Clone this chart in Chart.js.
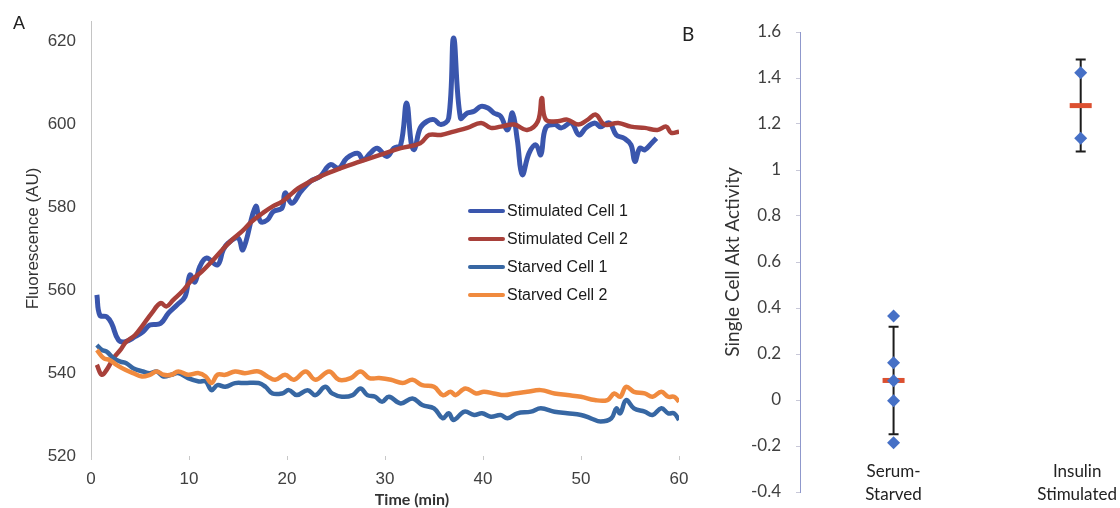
<!DOCTYPE html>
<html>
<head>
<meta charset="utf-8">
<script src="https://cdn.jsdelivr.net/npm/chart.js@4.4.0/dist/chart.umd.min.js"></script>
<style>
    body { margin: 0; background: #fff; }
    #wrap { position: relative; width: 1120px; height: 508px; overflow: hidden; }
    canvas { position: absolute; top: 0; }
    #chartA { left: 0; }
    #chartB { left: 690px; }
    .panel { position: absolute; color: #222; }
    #labelA { left: 13px; top: 13px; font: 18px "Liberation Sans", Arial, sans-serif; }
    #labelB { left: 682px; top: 22px; font: 19px Lato, sans-serif; }
    #timeTitle { position: absolute; left: 352px; width: 120px; top: 489px; text-align: center;
        font: bold 16px Lato, sans-serif; color: #333; }
    #legendA { position: absolute; left: 468px; top: 201px; }
    .row { height: 28px; display: flex; align-items: flex-start; }
    .row span.swatch { display: inline-block; width: 37px; height: 4px; margin-top: 8px; margin-right: 2px; border-radius: 2px; }
    .row span.text { font: 16px "Liberation Sans", Arial, sans-serif; color: #1a1a1a; line-height: 20px; }
</style>
</head>
<body>
<div id="wrap">
    <canvas id="chartA" width="690" height="508"></canvas>
    <canvas id="chartB" width="430" height="508"></canvas>
    <div class="panel" id="labelA">A</div>
    <div class="panel" id="labelB">B</div>
    <div id="timeTitle">Time (min)</div>
    <div id="legendA"></div>
</div>
<script>
// panel A: fluorescence traces (time in min, value in AU)
const stim1Time = [0.6,0.9,1.6,2.1,2.8,3.5,4.5,5.3,6.0,7.1,7.9,8.8,9.6,10.1,10.6,11.1,11.8,12.9,13.5,14.0,15.0,15.5,16.8,17.3,18.0,18.6,19.5,19.8,20.5,21.4,22.4,23.4,24.4,25.3,26.1,27.2,27.8,28.5,29.2,30.2,30.9,31.6,32.2,32.7,33.0,33.6,34.3,35.0,35.7,36.5,37.0,37.7,38.4,39.1,39.8,40.5,41.1,41.8,42.5,43.0,43.5,44.0,44.7,45.4,45.9,46.4,47.3,48.0,49.0,49.8,50.5,51.4,52.0,52.9,53.6,54.4,55.1,55.5,56.0,56.5,57.2,57.7];
const stim1Values = [558.9,554.0,553.6,552.0,548.0,547.6,548.8,550.0,551.6,552.0,554.5,556.5,558.5,563.7,562.0,565.7,567.8,566.1,569.8,571.4,572.6,569.8,580.2,576.6,577.0,579.0,579.9,583.5,581.0,583.8,586.3,587.5,590.3,589.5,591.9,593.1,591.5,593.1,594.3,592.3,594.3,595.1,605.2,595.1,594.0,599.2,600.8,601.2,600.0,601.6,620.9,601.6,602.8,603.2,604.4,604.0,602.8,602.0,598.7,602.8,596.3,587.9,593.1,595.1,592.7,599.2,600.0,599.2,600.4,597.5,599.2,600.4,599.5,600.4,597.5,596.7,595.1,591.1,594.3,593.9,595.5,596.7];

const stim2Time = [0.6,1.1,1.6,2.3,3.0,3.6,4.5,5.3,6.2,7.1,7.7,8.4,9.3,10.3,11.3,12.3,13.4,14.4,15.4,16.4,17.5,18.5,19.5,20.7,21.4,23.4,25.5,27.5,29.5,31.6,33.6,34.5,35.7,37.0,38.4,39.8,40.8,41.8,43.2,44.5,45.6,46.0,46.4,47.6,48.6,49.7,50.7,51.5,52.4,53.8,55.1,56.5,57.8,58.7,59.2,60.0];
const stim2Values = [542.0,539.6,540.8,543.6,545.6,547.6,549.2,551.6,554.5,556.9,556.1,557.7,559.7,562.5,564.5,566.9,569.8,572.2,574.2,576.6,578.6,580.2,581.4,583.8,585.0,587.5,589.5,591.1,592.7,594.3,595.5,597.5,597.5,598.3,599.2,600.4,599.2,599.5,600.0,598.7,600.8,606.4,601.2,600.8,601.2,600.0,601.2,602.4,600.0,600.4,599.5,599.2,598.7,599.5,598.0,598.3];

const starved1Time = [0.6,1.1,1.6,2.3,3.0,3.6,4.3,5.3,6.0,6.7,7.4,8.2,8.9,9.9,11.0,11.7,12.3,12.9,13.7,14.7,15.7,17.1,17.8,18.5,19.5,20.2,21.0,22.1,22.9,23.9,24.6,25.6,26.7,27.5,28.2,29.0,29.7,30.4,31.6,32.8,33.8,35.0,35.9,36.5,37.0,38.1,39.1,39.9,40.8,41.8,42.5,43.5,44.9,45.9,47.3,48.6,50.0,51.0,52.0,53.1,53.6,54.0,54.6,55.4,56.5,57.3,58.2,58.9,59.5,60.0];
const starved1Values = [546.8,545.6,545.2,543.6,542.8,542.4,541.2,540.4,540.0,540.4,539.2,539.6,540.0,538.8,538.0,538.0,535.9,537.1,536.7,537.6,537.6,537.6,536.7,535.1,535.1,535.9,534.7,535.9,534.7,536.7,535.1,534.3,534.7,536.3,534.7,534.3,533.1,534.3,532.7,533.9,532.3,531.5,529.1,530.3,528.7,530.7,529.9,530.3,529.5,529.9,529.1,530.3,530.7,531.5,530.7,530.3,529.9,529.1,528.3,529.1,531.5,530.3,533.5,531.5,530.7,529.9,531.5,530.3,530.3,528.7];

const starved2Time = [0.6,1.3,1.9,2.6,3.5,4.3,5.2,6.0,6.7,7.4,8.2,8.9,9.9,11.0,11.7,12.3,12.9,13.7,14.7,15.7,17.1,18.0,18.8,19.8,20.7,21.9,22.9,24.3,25.3,26.5,27.5,28.4,29.4,30.6,31.8,32.8,33.8,35.0,35.9,36.7,37.2,38.2,39.3,40.1,41.1,42.2,43.2,44.5,45.9,47.3,48.6,50.0,51.4,52.7,53.4,54.0,54.6,55.4,56.5,57.3,58.2,58.9,59.5,60.0];
const starved2Values = [545.6,543.6,543.2,542.0,540.8,540.0,539.2,539.6,540.4,539.6,539.6,540.4,539.6,540.0,539.2,537.6,539.6,539.6,540.4,540.0,540.4,539.2,538.4,539.6,538.4,540.4,538.4,540.4,538.4,538.8,540.4,538.8,538.8,538.4,537.6,538.4,537.1,536.7,534.7,535.5,534.7,536.3,535.1,535.5,535.1,534.7,535.1,535.5,535.9,535.1,534.7,534.3,533.5,533.5,535.1,534.3,536.7,535.5,535.1,534.3,535.5,534.3,534.3,533.1];

const seriesNames = ['Stimulated Cell 1', 'Stimulated Cell 2', 'Starved Cell 1', 'Starved Cell 2'];
const seriesColors = ['#3a56ad', '#a8403a', '#3767a3', '#f08a3e'];
const xTicksA = [0, 10, 20, 30, 40, 50, 60];
const yTicksA = [520, 540, 560, 580, 600, 620];

// panel B: single cell Akt activity per condition
const groupLabels = [['Serum-', 'Starved'], ['Insulin', 'Stimulated']];
const groupX = [1, 3];
const serumPoints = [0.365, 0.162, 0.084, -0.003, -0.186];
const insulinPoints = [1.423, 1.138];
const groupMeans = [0.085, 1.28];
const groupErrors = [0.234, 0.2];
const yTicksB = [-0.4, -0.2, 0, 0.2, 0.4, 0.6, 0.8, 1, 1.2, 1.4, 1.6];

const toPoints = (times, values) => times.map((t, i) => ({x: t, y: values[i]}));

// keep tick labels from pushing the plot area around
const noEdgePadding = (s) => {
    s.paddingLeft = 0;
    s.paddingRight = 0;
    s.paddingTop = 0;
    s.paddingBottom = 0;
};

const traces = [
    toPoints(stim1Time, stim1Values),
    toPoints(stim2Time, stim2Values),
    toPoints(starved1Time, starved1Values),
    toPoints(starved2Time, starved2Values)
];

const lineDatasets = traces.map((pts, i) => ({
    label: seriesNames[i],
    data: pts,
    borderColor: seriesColors[i],
    borderWidth: i === 0 ? 5 : 4.5,
    pointRadius: 0,
    tension: 0.4,
    fill: false,
    order: 4 - i
}));

const chartA = new Chart(document.getElementById('chartA'), {
    type: 'line',
    data: {datasets: lineDatasets},
    options: {
        responsive: false,
        animation: false,
        devicePixelRatio: 1,
        layout: {autoPadding: false, padding: {top: 21, right: 11, bottom: 0, left: 0}},
        plugins: {legend: {display: false}, tooltip: {enabled: false}},
        scales: {
            x: {
                type: 'linear',
                min: 0,
                max: 60,
                afterBuildTicks: (s) => { s.ticks = xTicksA.map(v => ({value: v})); },
                afterFit: (s) => { s.height = 52; noEdgePadding(s); },
                border: {display: false},
                grid: {drawOnChartArea: false, color: '#c8c8c8', tickLength: 4},
                ticks: {font: {family: 'Liberation Sans', size: 17}, color: '#404040', padding: 9, maxRotation: 0}
            },
            y: {
                min: 520,
                max: 625,
                afterBuildTicks: (s) => { s.ticks = yTicksA.map(v => ({value: v})); },
                afterFit: (s) => { s.width = 91; noEdgePadding(s); },
                border: {display: true, color: '#c4c4c4', width: 1},
                grid: {drawOnChartArea: false, drawTicks: false},
                ticks: {font: {family: 'Liberation Sans', size: 17}, color: '#404040', padding: 15},
                title: {
                    display: true,
                    text: 'Fluorescence (AU)',
                    font: {family: 'Liberation Sans', size: 17},
                    color: '#333',
                    padding: {top: 23, bottom: 0}
                }
            }
        }
    }
});

// legend sits inside the plot, built from the datasets
const legendBox = document.getElementById('legendA');
chartA.data.datasets.forEach((ds) => {
    const row = document.createElement('div');
    row.className = 'row';
    row.innerHTML = '<span class="swatch" style="background:' + ds.borderColor + '"></span><span class="text">' + ds.label + '</span>';
    legendBox.appendChild(row);
});

// error bars drawn under the markers
const errorBars = {
    id: 'errorBars',
    beforeDatasetsDraw: (chart) => {
        const {ctx, scales: {x, y}} = chart;
        ctx.save();
        ctx.strokeStyle = '#1c1c1c';
        ctx.lineWidth = 2;
        groupMeans.forEach((m, i) => {
            const px = x.getPixelForValue(groupX[i]);
            const top = y.getPixelForValue(m + groupErrors[i]);
            const bottom = y.getPixelForValue(m - groupErrors[i]);
            ctx.beginPath();
            ctx.moveTo(px, top);
            ctx.lineTo(px, bottom);
            ctx.moveTo(px - 5, top);
            ctx.lineTo(px + 5, top);
            ctx.moveTo(px - 5, bottom);
            ctx.lineTo(px + 5, bottom);
            ctx.stroke();
        });
        ctx.restore();
    }
};

// category names under each group
const groupNames = {
    id: 'groupNames',
    afterDraw: (chart) => {
        const {ctx, scales: {x}, chartArea} = chart;
        ctx.save();
        ctx.font = '17px Lato, sans-serif';
        ctx.fillStyle = '#222';
        ctx.textAlign = 'center';
        ctx.textBaseline = 'middle';
        groupLabels.forEach((lines, i) => {
            const w = Math.max(...lines.map(l => ctx.measureText(l).width));
            let cx = x.getPixelForValue(groupX[i]);
            cx = Math.min(cx, chart.width - w / 2 - 3);
            lines.forEach((l, k) => {
                ctx.fillText(l, cx, chartArea.bottom - 20 + k * 23);
            });
        });
        ctx.restore();
    }
};

const chartB = new Chart(document.getElementById('chartB'), {
    type: 'scatter',
    data: {
        datasets: [
            {
                label: 'cells',
                data: serumPoints.map(v => ({x: groupX[0], y: v}))
                    .concat(insulinPoints.map(v => ({x: groupX[1], y: v}))),
                pointStyle: 'rectRot',
                pointRadius: 6.5,
                backgroundColor: '#4670c6',
                borderWidth: 0,
                order: 1
            },
            {
                label: 'mean',
                data: groupMeans.map((m, i) => ({x: groupX[i], y: m})),
                pointStyle: 'line',
                pointRadius: 11,
                borderColor: '#dc5030',
                borderWidth: 5,
                order: 2
            }
        ]
    },
    options: {
        responsive: false,
        animation: false,
        devicePixelRatio: 1,
        layout: {autoPadding: false, padding: {top: 32, right: 0, bottom: 16, left: 0}},
        plugins: {legend: {display: false}, tooltip: {enabled: false}},
        scales: {
            x: {type: 'linear', min: 0, max: 3.42, display: false},
            y: {
                min: -0.4,
                max: 1.6,
                afterBuildTicks: (s) => { s.ticks = yTicksB.map(v => ({value: v})); },
                afterFit: (s) => { s.width = 110; noEdgePadding(s); },
                border: {display: true, color: '#8f98cc', width: 1},
                grid: {drawOnChartArea: false, color: '#c8c8d8', tickLength: 4},
                ticks: {
                    font: {family: 'Lato', size: 17},
                    color: '#404040',
                    padding: 15,
                    callback: (v) => String(Math.round(v * 10) / 10)
                },
                title: {
                    display: true,
                    text: 'Single Cell Akt Activity',
                    font: {family: 'Lato', size: 19},
                    color: '#333',
                    padding: {top: 31, bottom: 0}
                }
            }
        }
    },
    plugins: [errorBars, groupNames]
});
</script>
</body>
</html>
